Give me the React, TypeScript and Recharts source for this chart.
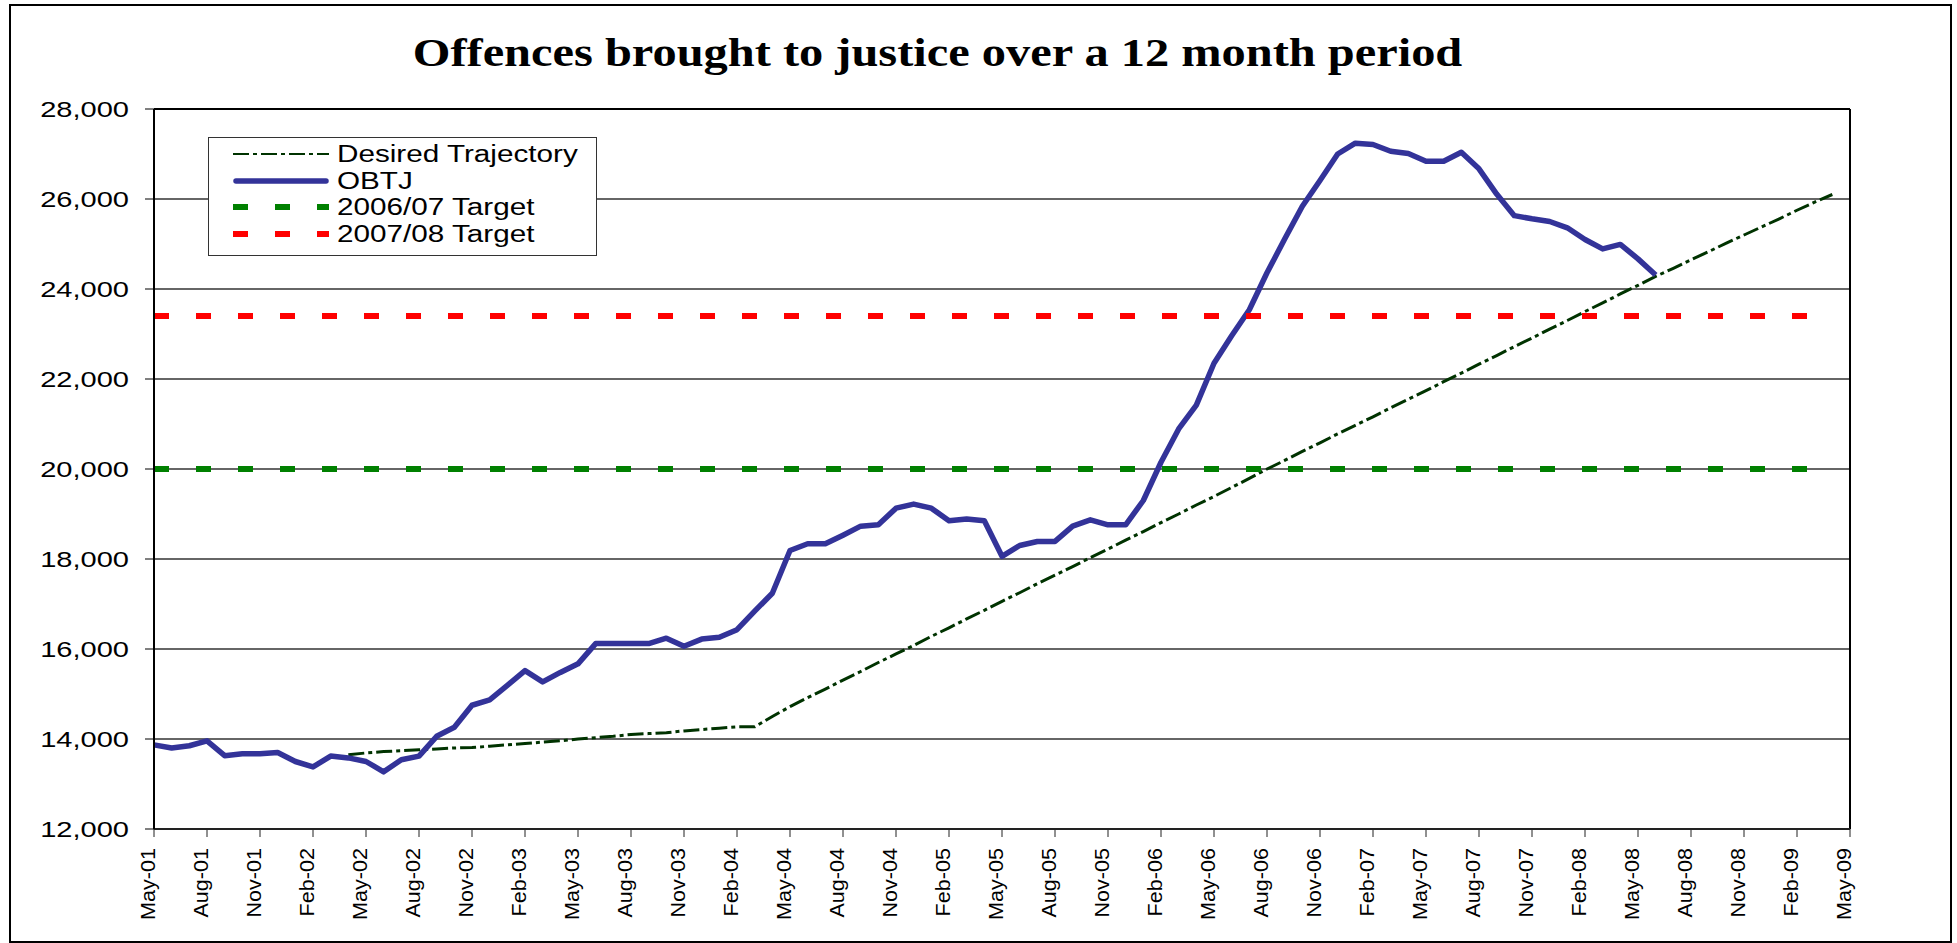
import { LineChart, Line, XAxis, YAxis, CartesianGrid, Legend, ReferenceLine } from 'recharts';

const FONT = '"Liberation Sans", Arial, sans-serif';

// monthly categories, May-01 .. May-09
const MONTHS = [
  'May-01', 'Jun-01', 'Jul-01', 'Aug-01', 'Sep-01', 'Oct-01', 'Nov-01', 'Dec-01',
  'Jan-02', 'Feb-02', 'Mar-02', 'Apr-02', 'May-02', 'Jun-02', 'Jul-02', 'Aug-02', 'Sep-02', 'Oct-02', 'Nov-02', 'Dec-02',
  'Jan-03', 'Feb-03', 'Mar-03', 'Apr-03', 'May-03', 'Jun-03', 'Jul-03', 'Aug-03', 'Sep-03', 'Oct-03', 'Nov-03', 'Dec-03',
  'Jan-04', 'Feb-04', 'Mar-04', 'Apr-04', 'May-04', 'Jun-04', 'Jul-04', 'Aug-04', 'Sep-04', 'Oct-04', 'Nov-04', 'Dec-04',
  'Jan-05', 'Feb-05', 'Mar-05', 'Apr-05', 'May-05', 'Jun-05', 'Jul-05', 'Aug-05', 'Sep-05', 'Oct-05', 'Nov-05', 'Dec-05',
  'Jan-06', 'Feb-06', 'Mar-06', 'Apr-06', 'May-06', 'Jun-06', 'Jul-06', 'Aug-06', 'Sep-06', 'Oct-06', 'Nov-06', 'Dec-06',
  'Jan-07', 'Feb-07', 'Mar-07', 'Apr-07', 'May-07', 'Jun-07', 'Jul-07', 'Aug-07', 'Sep-07', 'Oct-07', 'Nov-07', 'Dec-07',
  'Jan-08', 'Feb-08', 'Mar-08', 'Apr-08', 'May-08', 'Jun-08', 'Jul-08', 'Aug-08', 'Sep-08', 'Oct-08', 'Nov-08', 'Dec-08',
  'Jan-09', 'Feb-09', 'Mar-09', 'Apr-09', 'May-09',
];

// offences brought to justice, rolling 12 months, May-01 .. Jun-08
const OBTJ = [
  13870, 13800, 13850, 13960, 13630, 13670, 13670, 13700,
  13500, 13380, 13620, 13580, 13500, 13270, 13540, 13620, 14060, 14260, 14750, 14870,
  15190, 15520, 15270, 15480, 15670, 16120, 16120, 16120, 16120, 16240, 16060, 16220,
  16260, 16430, 16840, 17240, 18190, 18340, 18340, 18530, 18730, 18760, 19130, 19220,
  19130, 18850, 18890, 18850, 18060, 18300, 18390, 18390, 18730, 18870, 18760, 18760,
  19300, 20150, 20890, 21420, 22350, 22960, 23540, 24360, 25110, 25840, 26410, 27000,
  27240, 27210, 27060, 27010, 26840, 26840, 27040, 26670, 26110, 25630, 25560, 25500,
  25360, 25100, 24890, 24990, 24670, 24310,
];

// desired trajectory, Apr-02 .. Apr-09
const TRAJECTORY_FROM = 'Apr-02';
const TRAJECTORY = [
  13650, 13690, 13720, 13740, 13760, 13780, 13800, 13810, 13840,
  13870, 13900, 13930, 13960, 14000, 14030, 14060, 14100, 14120, 14140, 14180, 14210,
  14240, 14270, 14270, 14500, 14720, 14920, 15110, 15310, 15500, 15700, 15890, 16080,
  16280, 16470, 16670, 16860, 17060, 17250, 17450, 17640, 17830, 18030, 18220, 18420,
  18610, 18810, 19000, 19200, 19390, 19590, 19790, 20000, 20190, 20390, 20580, 20780,
  20970, 21160, 21360, 21550, 21740, 21940, 22130, 22330, 22520, 22720, 22910, 23110,
  23300, 23500, 23690, 23890, 24080, 24280, 24460, 24650, 24830, 25020, 25200, 25380,
  25560, 25750, 25930, 26100,
];

const TARGET_2006_07 = 20000;
const TARGET_2007_08 = 23400;
const TARGET_UNTIL = 'Apr-09';

const Y_TICKS = [12000, 14000, 16000, 18000, 20000, 22000, 24000, 26000, 28000];

const SERIES = [
  { key: 'trajectory', name: 'Desired Trajectory', color: '#003300', width: 3, legendWidth: 2, dash: '16 4 4 4' },
  { key: 'obtj', name: 'OBTJ', color: '#333399', width: 5.5, legendWidth: 5.5, dash: undefined },
  { key: 't0607', name: '2006/07 Target', color: '#008000', width: 6, legendWidth: 6, dash: '15 27' },
  { key: 't0708', name: '2007/08 Target', color: '#ff0000', width: 6, legendWidth: 6, dash: '15 27' },
];

const trajStart = MONTHS.indexOf(TRAJECTORY_FROM);
const targetEnd = MONTHS.indexOf(TARGET_UNTIL);

const data = MONTHS.map((month, i) => ({
  month,
  obtj: OBTJ[i] ?? null,
  trajectory: i >= trajStart ? TRAJECTORY[i - trajStart] ?? null : null,
  t0607: i <= targetEnd ? TARGET_2006_07 : null,
  t0708: i <= targetEnd ? TARGET_2007_08 : null,
}));

const YTick = ({ x, y, payload }: any) => (
  <text
    transform={`translate(${x},${y}) scale(1.32,1)`}
    textAnchor="end"
    dy="0.36em"
    fontSize={22}
    fontFamily={FONT}
    fill="#000"
  >
    {Number(payload.value).toLocaleString('en-US')}
  </text>
);

const XTick = ({ x, y, payload }: any) => (
  <text
    transform={`translate(${x + 1},${y}) rotate(-90) scale(1.08,1)`}
    textAnchor="end"
    fontSize={20}
    fontFamily={FONT}
    fill="#000"
  >
    {payload.value}
  </text>
);

function LegendBox() {
  return (
    <div
      style={{
        width: 389,
        height: 119,
        boxSizing: 'border-box',
        border: '1.5px solid #333',
        background: '#fff',
        position: 'relative',
        fontFamily: FONT,
        color: '#000',
      }}
    >
      {SERIES.map((s, i) => (
        <div key={s.key} style={{ position: 'absolute', left: 0, top: 3 + i * 26.7, height: 26, width: '100%' }}>
          <svg width={100} height={26} style={{ position: 'absolute', left: 22, top: 0 }}>
            <line
              x1={s.key === 'obtj' ? 5 : 2}
              x2={s.key === 'obtj' ? 95 : 98}
              y1={13}
              y2={13}
              stroke={s.color}
              strokeWidth={s.legendWidth}
              strokeDasharray={s.dash}
              strokeLinecap={s.key === 'obtj' ? 'round' : 'butt'}
            />
          </svg>
          <span
            style={{
              position: 'absolute',
              left: 128,
              top: 0,
              lineHeight: '26px',
              fontSize: 23,
              transform: 'scaleX(1.29)',
              transformOrigin: 'left center',
              whiteSpace: 'nowrap',
            }}
          >
            {s.name}
          </span>
        </div>
      ))}
    </div>
  );
}

export default function App() {
  return (
    <div style={{ position: 'absolute', left: 0, top: 0, width: 1957, height: 943, background: '#fff' }}>
      <div
        style={{
          position: 'absolute',
          left: 0,
          top: 33,
          width: 1875,
          textAlign: 'center',
          fontFamily: '"Liberation Serif", "Times New Roman", serif',
          fontWeight: 'bold',
          fontSize: 40,
          lineHeight: '40px',
          transform: 'scaleX(1.21)',
          transformOrigin: 'center',
          whiteSpace: 'nowrap',
          zIndex: 2,
        }}
      >
        Offences brought to justice over a 12 month period
      </div>
      <LineChart width={1957} height={943} data={data} margin={{ top: 109, right: 107, bottom: 14, left: 54 }}>
        <CartesianGrid vertical={false} stroke="#333" strokeWidth={1.3} />
        <XAxis
          dataKey="month"
          interval={2}
          tickSize={8}
          tickMargin={11}
          height={100}
          tick={<XTick />}
          axisLine={{ stroke: '#222', strokeWidth: 2 }}
          tickLine={{ stroke: '#222' }}
        />
        <YAxis
          domain={[12000, 28000]}
          ticks={Y_TICKS}
          width={100}
          tickSize={9}
          tickMargin={16}
          tick={<YTick />}
          axisLine={{ stroke: '#000', strokeWidth: 2 }}
          tickLine={{ stroke: '#000' }}
        />
        <ReferenceLine y={28000} stroke="#000" strokeWidth={2} />
        <ReferenceLine x="May-09" stroke="#000" strokeWidth={2} />
        {SERIES.map((s) => (
          <Line
            key={s.key}
            dataKey={s.key}
            name={s.name}
            type="linear"
            stroke={s.color}
            strokeWidth={s.width}
            strokeDasharray={s.dash}
            strokeLinejoin="round"
            dot={false}
            activeDot={false}
            isAnimationActive={false}
          />
        ))}
        <Legend
          layout="vertical"
          align="center"
          verticalAlign="middle"
          content={() => <LegendBox />}
          wrapperStyle={{ left: 208, top: 137, width: 389, height: 119 }}
        />
      </LineChart>
      <div
        style={{
          position: 'absolute',
          left: 9,
          top: 4,
          width: 1943,
          height: 939,
          border: '2px solid #000',
          boxSizing: 'border-box',
          pointerEvents: 'none',
        }}
      />
    </div>
  );
}
